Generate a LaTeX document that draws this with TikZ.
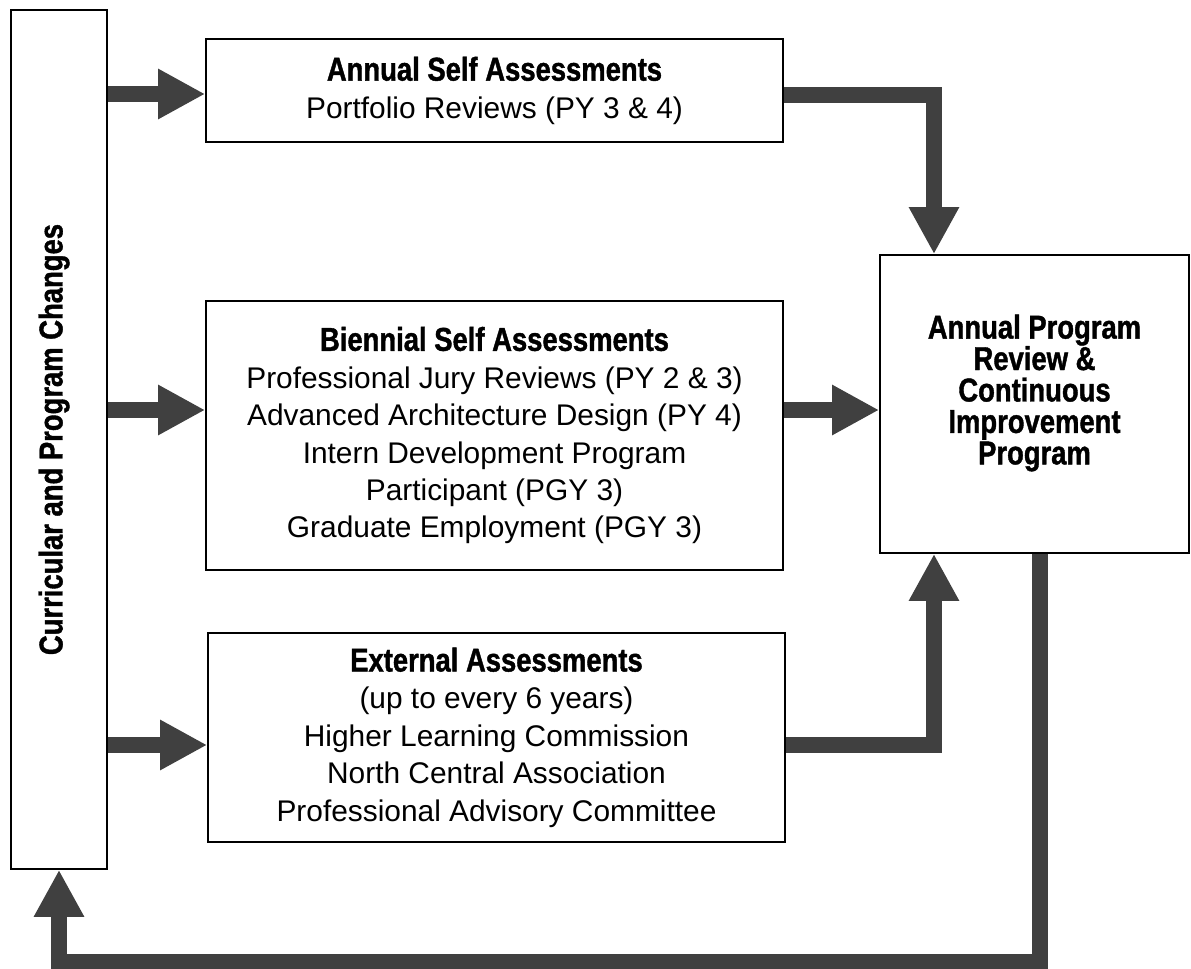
\documentclass[tikz,border=0pt]{standalone}
\usepackage{fontspec}
\setmainfont{Liberation Sans}
\newfontfamily\headfont[FakeStretch=0.83,FakeBold=1.2]{Liberation Sans Bold}
\usetikzlibrary{arrows.meta, positioning}
\definecolor{arrowgray}{HTML}{404040}
\newcommand{\hd}{\headfont\fontsize{18.8}{21.3}\selectfont}

\begin{document}
\begin{tikzpicture}[x=0.02cm, y=-0.02cm]
    \tikzstyle{every node}+=[inner sep=0pt]
    \tikzstyle{box}=[draw=black, line width=1pt, fill=white, align=center, font={\fontsize{17}{21.3}\selectfont}]
    \tikzstyle{flow}=[draw=arrowgray, line width=0.31cm, line join=miter, -{Triangle[length=0.94cm, width=0.94cm]}]
    \useasboundingbox (0,0) rectangle (1191,969);

    % boxes
    \node[box, minimum width=1.92cm, minimum height=17.18cm] (change) at (59,439.5) {};
    \node[rotate=90, font=\hd] (changetext) at ([xshift=-0.1cm]change.center) {Curricular and Program Changes};
    \node[box, minimum width=11.54cm, minimum height=2.06cm] (annual) at (494.5,90.5)
        {{\hd Annual Self Assessments}\\Portfolio Reviews (PY 3 \& 4)};
    \node[box, minimum width=11.54cm, minimum height=5.38cm] (biennial) at (494.5,435.5)
        {{\hd Biennial Self Assessments}\\Professional Jury Reviews (PY 2 \& 3)\\Advanced Architecture Design (PY 4)\\Intern Development Program\\Participant (PGY 3)\\Graduate Employment (PGY 3)};
    \node[box, minimum width=11.54cm, minimum height=4.18cm] (external) at (496.5,737.5)
        {{\hd External Assessments}\\(up to every 6 years)\\Higher Learning Commission\\North Central Association\\Professional Advisory Committee};
    \node[box, minimum width=6.18cm, minimum height=5.96cm] (review) at (1034.5,404) {};
    \node[align=center, font={\hd\fontsize{18.8}{17.9}\selectfont}] (reviewtext) at ([yshift=0.22cm]review.center)
        {Annual Program\\Review \&\\Continuous\\Improvement\\Program};

    % arrows
    \coordinate (inA) at ([yshift=-0.07cm]annual.west);
    \coordinate (inB) at ([yshift=0.51cm]biennial.west);
    \coordinate (inC) at ([yshift=-0.15cm]external.west);
    \coordinate (outA) at ([yshift=-0.09cm]annual.east);
    \coordinate (outC) at ([yshift=-0.15cm]external.east);
    \coordinate (merge) at (934,0);
    \coordinate (loop) at ([xshift=0.11cm]review.south);
    \coordinate (floor) at (0,962);
    \draw[flow] (change.east |- inA) -- (inA);
    \draw[flow] (change.east |- inB) -- (inB);
    \draw[flow] (change.east |- inC) -- (inC);
    \draw[flow] (biennial.east |- inB) -- (review.west |- inB);
    \draw[flow] (outA) -- (merge |- outA) -- (merge |- review.north);
    \draw[flow] (outC) -- (merge |- outC) -- (merge |- review.south);
    \draw[flow] (loop) -- (loop |- floor) -- (change.south |- floor) -- (change.south);
\end{tikzpicture}
\end{document}
